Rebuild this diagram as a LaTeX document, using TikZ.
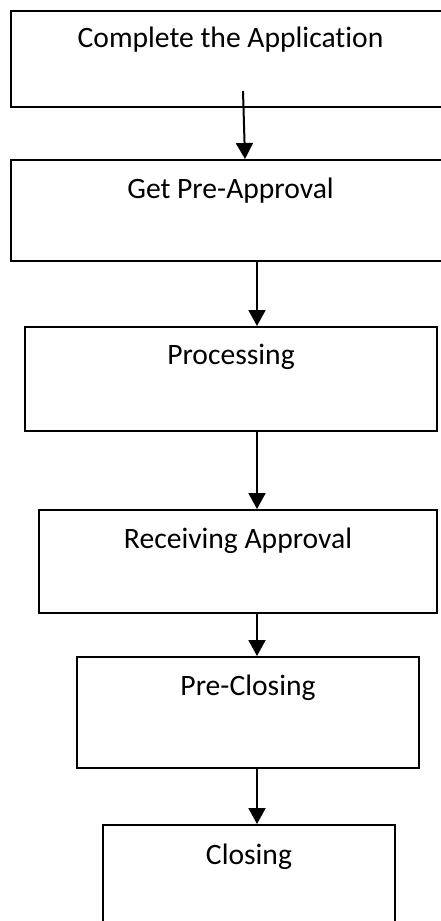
\documentclass[tikz,border=0pt]{standalone}
\usepackage{fontspec}
\setmainfont{Carlito}[Ligatures={NoCommon,NoRequired,NoContextual}]
\usetikzlibrary{arrows.meta}
\begin{document}
\begin{tikzpicture}[x=1pt,y=-1pt,
  box/.style={draw=black,line width=2pt,inner sep=0pt,fill=white},
  lbl/.style={anchor=base,inner sep=0pt,font=\fontsize{29.6}{35}\selectfont},
  arr/.style={line width=2pt,-{Triangle[width=17pt,length=16pt]}}]
\useasboundingbox[fill=white] (0,0) rectangle (440,921);
\node[box,minimum width=439pt,minimum height=96pt] (b1) at (230.5,59) {};
\node[box,minimum width=439pt,minimum height=101pt] (b2) at (230.5,210.5) {};
\node[box,minimum width=412pt,minimum height=104pt] (b3) at (231,379) {};
\node[box,minimum width=398pt,minimum height=103pt] (b4) at (238,561.5) {};
\node[box,minimum width=342pt,minimum height=111pt] (b5) at (248,712.5) {};
\node[box,minimum width=292pt,minimum height=105pt] (b6) at (249,877.5) {};
\node[lbl] (t1) at ([yshift=-37pt]b1.north) {Complete the Application};
\node[lbl] (t2) at ([yshift=-39pt]b2.north) {Get Pre-Approval};
\node[lbl] (t3) at ([yshift=-38pt]b3.north) {Processing};
\node[lbl] (t4) at ([yshift=-39pt]b4.north) {Receiving Approval};
\node[lbl] (t5) at ([yshift=-39pt]b5.north) {Pre-Closing};
\node[lbl] (t6) at ([yshift=-40pt]b6.north) {Closing};
\coordinate (a1s) at (243,91);
\coordinate (a1x) at (245,0);
\coordinate (ax) at (257,0);
\draw[arr] (a1s) -- (b2.north -| a1x);
\draw[arr] (b2.south -| ax) -- (b3.north -| ax);
\draw[arr] (b3.south -| ax) -- (b4.north -| ax);
\draw[arr] (b4.south -| ax) -- (b5.north -| ax);
\draw[arr] (b5.south -| ax) -- (b6.north -| ax);
\end{tikzpicture}
\end{document}
